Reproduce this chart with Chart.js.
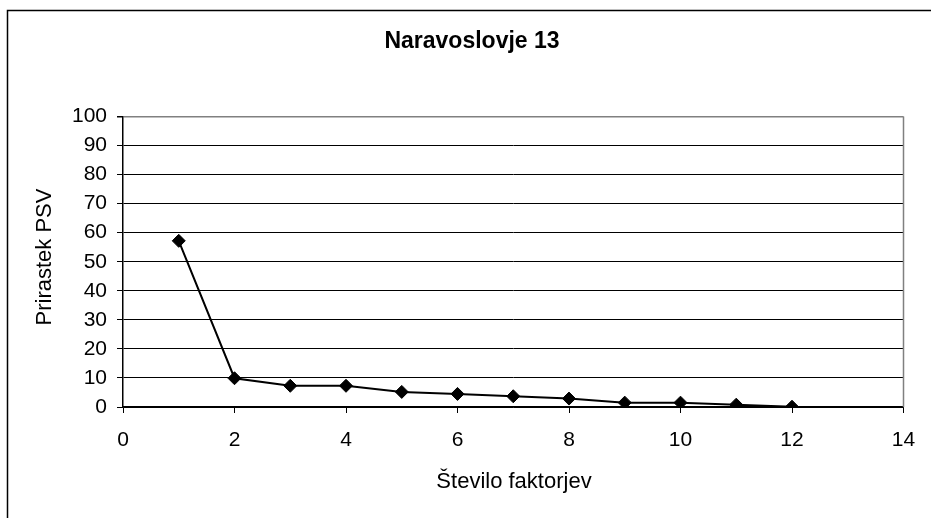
<!DOCTYPE html>
<html>
<head>
<meta charset="utf-8">
<script src="https://cdn.jsdelivr.net/npm/chart.js@4/dist/chart.umd.min.js"></script>
<style>
  html, body { margin: 0; padding: 0; background: #fff; }
  #wrap { width: 931px; height: 518px; position: relative; }
</style>
</head>
<body>
<div id="wrap"><canvas id="c" width="931" height="518"></canvas></div>
<script>
const chartTitle = "Naravoslovje 13";
const xAxisTitle = "Število faktorjev";
const yAxisTitle = "Prirastek PSV";
const factors = [1, 2, 3, 4, 5, 6, 7, 8, 9, 10, 11, 12];
const increments = [57.2, 9.9, 7.3, 7.3, 5.2, 4.5, 3.7, 2.9, 1.5, 1.5, 0.8, 0.1];
const xTicks = [0, 2, 4, 6, 8, 10, 12, 14];
const yTicks = [0, 10, 20, 30, 40, 50, 60, 70, 80, 90, 100];

const FONT = "'Liberation Sans', Arial, sans-serif";

const decor = {
  id: 'decor',
  beforeDraw(chart) {
    const ctx = chart.ctx;
    ctx.save();
    ctx.fillStyle = '#fff';
    ctx.fillRect(0, 0, chart.width, chart.height);
    ctx.restore();
  },
  afterDraw(chart) {
    const ctx = chart.ctx;
    const a = chart.chartArea;
    ctx.save();
    // outer chart border (left and top)
    ctx.strokeStyle = '#000';
    ctx.lineWidth = 1.5;
    ctx.beginPath();
    ctx.moveTo(7.5, chart.height);
    ctx.lineTo(7.5, 10.5);
    ctx.lineTo(chart.width, 10.5);
    ctx.stroke();
    // plot area right border (gray)
    ctx.strokeStyle = '#808080';
    ctx.lineWidth = 1.5;
    ctx.beginPath();
    ctx.moveTo(a.right, a.top);
    ctx.lineTo(a.right, a.bottom);
    ctx.stroke();
    // titles
    ctx.fillStyle = '#000';
    ctx.textAlign = 'center';
    ctx.textBaseline = 'middle';
    ctx.font = "bold 23px " + FONT;
    ctx.fillText(chartTitle, 472, 42);
    ctx.font = "22px " + FONT;
    ctx.fillText(xAxisTitle, 514, 482);
    ctx.translate(45, 257);
    ctx.rotate(-Math.PI / 2);
    ctx.fillText(yAxisTitle, 0, 0);
    ctx.restore();
  }
};

new Chart(document.getElementById('c'), {
  type: 'scatter',
  data: {
    datasets: [{
      data: factors.map((x, i) => ({ x: x, y: increments[i] })),
      showLine: true,
      borderColor: '#000',
      borderWidth: 2,
      backgroundColor: '#000',
      pointStyle: 'rectRot',
      pointRadius: 6.5,
      pointBorderWidth: 1,
      pointBackgroundColor: '#000',
      pointBorderColor: '#000',
      tension: 0
    }]
  },
  options: {
    responsive: false,
    animation: false,
    devicePixelRatio: 1,
    layout: { padding: { left: 0, right: 27.5, top: 116.5, bottom: 0 } },
    plugins: { legend: { display: false }, tooltip: { enabled: false }, title: { display: false } },
    scales: {
      x: {
        type: 'linear',
        min: 0, max: 14,
        afterBuildTicks(scale) { scale.ticks = xTicks.map(v => ({ value: v })); },
        afterFit(scale) { scale.height = 111; },
        border: { display: true, color: '#000', width: 1.5 },
        grid: { drawOnChartArea: false, drawTicks: true, tickLength: 6, color: '#000', tickColor: '#000', lineWidth: 1 },
        ticks: { color: '#000', font: { family: FONT, size: 21 }, padding: 15, maxRotation: 0 }
      },
      y: {
        type: 'linear',
        min: 0, max: 100,
        afterBuildTicks(scale) { scale.ticks = yTicks.map(v => ({ value: v })); },
        afterFit(scale) { scale.width = 123; },
        border: { display: true, color: '#000', width: 1.5 },
        grid: {
          drawOnChartArea: true, drawTicks: true, tickLength: 6,
          color: ctx => (ctx.tick && ctx.tick.value === 100) ? '#808080' : '#000',
          tickColor: '#000',
          lineWidth: ctx => (ctx.tick && ctx.tick.value === 100) ? 1.5 : 1
        },
        ticks: { color: '#000', font: { family: FONT, size: 21 }, padding: 10 }
      }
    }
  },
  plugins: [decor]
});
</script>
</body>
</html>
